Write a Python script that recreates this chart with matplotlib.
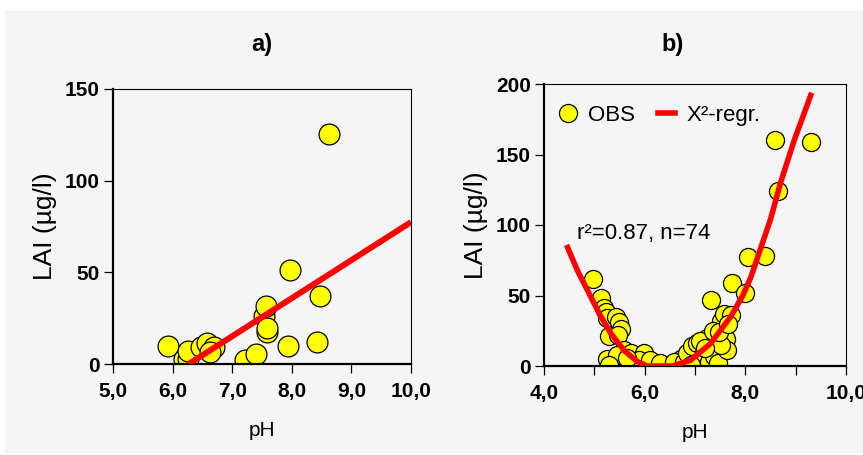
# LAI vs pH: linear fit (a) and quadratic fit (b)

import matplotlib
matplotlib.use("Agg")
import matplotlib.pyplot as plt
from matplotlib.patches import Rectangle
from matplotlib.ticker import FixedLocator, FuncFormatter

plt.rcParams["font.family"] = ["Liberation Sans", "DejaVu Sans"]

# panel a) observations
ph_a = [5.92, 6.19, 6.26, 6.26, 6.47, 6.58, 6.69, 6.63, 7.21, 7.40,
        7.54, 7.56, 7.59, 7.59, 7.94, 7.97, 8.42, 8.48, 8.63]
lai_a = [9.9, 2.6, 2.6, 7.3, 9.5, 11.3, 9.5, 6.8, 2.2, 5.5,
         26.3, 31.8, 17.7, 19.5, 9.9, 51.5, 12.2, 36.9, 125.4]
# panel a) regression line (read off the chart)
fit_ph_a = [6.27, 10.0]
fit_lai_a = [0.0, 77.4]

# panel b) observations
ph_b = [4.98, 5.14, 5.20, 5.23, 5.25, 5.43, 5.49, 5.53, 5.29, 5.47,
        5.59, 5.26, 5.46, 5.73, 5.99, 5.89, 5.30, 6.19, 6.46, 6.10,
        5.65, 6.30, 6.72, 6.58, 6.78, 6.85, 6.94, 7.04, 7.17, 7.24,
        7.10, 7.01, 7.27, 7.38, 7.46, 7.31, 7.44, 7.54, 7.51, 7.57,
        7.71, 7.61, 7.64, 7.52, 7.74, 7.99, 8.05, 8.40, 8.59, 9.31,
        8.65, 7.20, 7.35, 6.93, 7.48, 7.66]
lai_b = [62, 48, 41, 38, 34, 35, 31, 26, 21, 22,
         11, 5, 8, 9, 9, 4, 1, 2, 1, 4,
         6, 2, 5, 3, 3, 9, 14, 16, 9, 20,
         18, 2, 3, 7, 2, 47, 21, 27, 32, 37,
         36, 19, 11, 15, 59, 52, 77, 78, 160, 159,
         124, 13, 25, 1, 24, 30]
# panel b) X^2 regression curve (read off the chart)
fit_ph_b = [4.47, 4.66, 4.86, 5.10, 5.33, 5.59, 5.86, 6.05, 6.55, 6.91,
            7.31, 7.71, 7.95, 8.11, 8.30, 8.50, 8.70, 8.97, 9.30]
fit_lai_b = [84, 68, 54, 37, 23, 11, 3, 0, 0, 4,
             16, 35, 50, 63, 83, 104, 130, 160, 192]

bg = "#f5f5f5"
fig = plt.figure(figsize=(8.63, 4.55), dpi=100, facecolor="white")
fig.patches.append(Rectangle((5 / 863, 0.002), 1, 1 - 10 / 455 - 0.002,
                             transform=fig.transFigure, facecolor=bg,
                             edgecolor="none", zorder=-10))

ax_a = fig.add_axes([113 / 863, 91 / 455, 298 / 863, 275 / 455])
ax_b = fig.add_axes([544 / 863, 89 / 455, 302 / 863, 282 / 455])

comma = FuncFormatter(lambda v, p: f"{v:.1f}".replace(".", ","))

for ax in (ax_a, ax_b):
    ax.set_facecolor("none")
    ax.spines["left"].set_linewidth(1.6)
    ax.spines["bottom"].set_linewidth(1.6)
    ax.spines["top"].set_linewidth(0.8)
    ax.spines["right"].set_linewidth(0.8)
    ax.tick_params(direction="out", length=6.3, width=0.9, labelsize=15,
                   pad=3)
    ax.tick_params(axis="x", pad=7)
    ax.tick_params(which="minor", direction="out", length=6.3, width=0.9)
    ax.xaxis.set_major_formatter(comma)
    ax.set_xlabel("pH", fontsize=15, labelpad=14)

# panel a
ax = ax_a
ax.plot(ph_a, lai_a, "o", markersize=15, markerfacecolor="yellow",
        markeredgecolor="black", markeredgewidth=0.9, zorder=2)
ax.plot(fit_ph_a, fit_lai_a, color="red", linewidth=4.3, zorder=3,
        solid_capstyle="butt")
ax.set_xlim(5, 10)
ax.set_ylim(0, 150)
ax.set_xticks([5, 6, 7, 8, 9, 10])
ax.set_yticks([0, 50, 100, 150])
ax.set_ylabel("LAI (µg/l)", fontsize=19, labelpad=6)

# panel b
ax = ax_b
ax.plot(ph_b, lai_b, "o", markersize=13, markerfacecolor="yellow",
        markeredgecolor="black", markeredgewidth=0.9, zorder=2, label="OBS")
ax.plot(fit_ph_b, fit_lai_b, color="red", linewidth=4.0, zorder=3,
        label="X²-regr.")
ax.set_xlim(4, 10)
ax.set_ylim(0, 200)
ax.set_xticks([4, 6, 8, 10])
ax.xaxis.set_minor_locator(FixedLocator([5, 7, 9]))
ax.set_yticks([0, 50, 100, 150, 200])
ax.set_ylabel("LAI (µg/l)", fontsize=19, labelpad=6)
ax.text(4.66, 94, "r²=0.87, n=74", fontsize=16, va="center", ha="left")
ax.legend(loc="upper left", bbox_to_anchor=(0.0, 0.98), ncol=2,
          frameon=False, fontsize=16, handlelength=0.8, handletextpad=0.5,
          columnspacing=1.0, borderaxespad=0.3)

for ax in (ax_a, ax_b):
    for lab in ax.get_xticklabels() + ax.get_yticklabels():
        lab.set_fontweight("bold")

fig.text(262 / 863, 1 - 45 / 455, "a)", fontsize=17, fontweight="bold",
         ha="center", va="center")
fig.text(673 / 863, 1 - 45 / 455, "b)", fontsize=17, fontweight="bold",
         ha="center", va="center")

fig.savefig("out.png", dpi=100, facecolor="white")
